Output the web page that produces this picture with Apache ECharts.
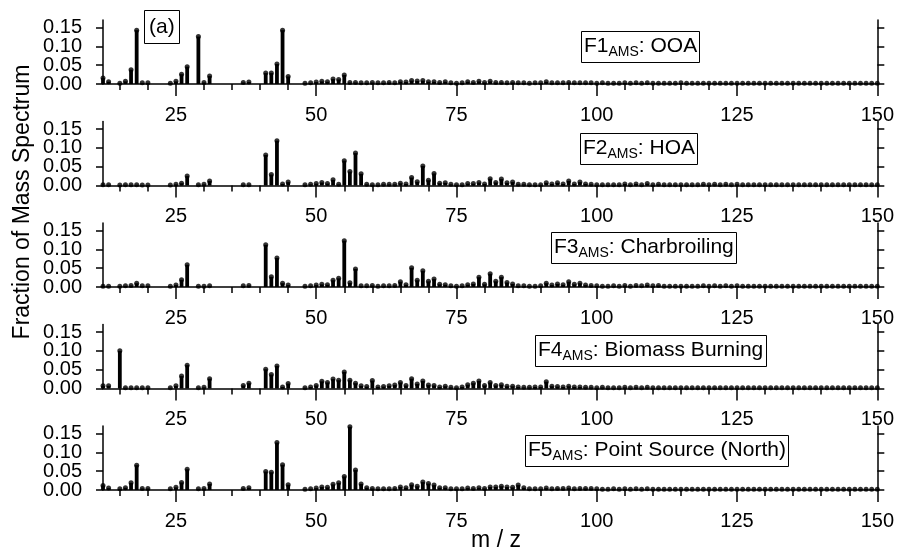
<!DOCTYPE html>
<html lang="en">
<head>
<meta charset="UTF-8">
<title>AMS factor mass spectra</title>
<script src="https://cdn.jsdelivr.net/npm/echarts@6/dist/echarts.min.js"></script>
<style>
    *{
        margin: 0;
        padding: 0;
    }
    html,body{
        width: 100%;
        height: 100%;
        background: #fff;
    }
    .main{
        width: 897px;
        height: 550px;
    }
</style>
</head>
<body>
<div class="main"></div>
<script>
    // m/z channels shown in the figure (gaps = channels not fitted)
    const mz = [12,13,15,16,17,18,19,20,24,25,26,27,29,30,31,37,38,41,42,43,44,45,
        48,49,50,51,52,53,54,55,56,57,58,59,60,61,62,63,64,65,66,67,68,69,70,71,72,73,74,75,76,77,
        78,79,80,81,82,83,84,85,86,87,88,89,90,91,92,93,94,95,96,97,98,99,100,101,102,103,104,105,106,107,
        108,109,110,111,112,113,114,115,116,117,118,119,120,121,122,123,124,125,126,127,
        128,129,130,131,132,133,134,135,136,137,138,139,140,141,142,143,144,145,146,147,148,149,150];

    const ooa = [0.016,0.006,0.002,0.007,0.038,0.143,0.003,0.003,0.002,0.007,0.026,0.046,0.126,0.004,0.021,0.004,0.005,0.029,0.029,0.053,0.143,0.020,
        .002,.003,.005,.007,.006,.013,.012,.024,.004,.004,
        .003,.003,.004,.003,.003,.004,.003,.006,.005,.009,
        .008,.009,.006,.006,.004,.006,.003,.002,.003,.006,
        .004,.007,.004,.007,.004,.004,.003,.004,.003,.003,
        .002,.003,.003,.006,.003,.003,.003,.004,.003,.003,
        .003,.003,.002,.003,.002,.002,.002,.003,.002,.003,
        .002,.003,.002,.002,.002,.002,.002,.003,.002,.002,
        .002,.002,.002,.002,.002,.002,.002,.002,.002,.002,
        .002,.002,.002,.002,.002,.002,.002,.002,.002,.002,
        .002,.002,.002,.002,.002,.002,.002,.002,.002,.002,
        .002,.002,.002];

    const hoa = [0.002,0.002,0.001,0.002,0.002,0.002,0.001,0.001,0.001,0.003,0.006,0.025,0.002,0.003,0.012,0.002,0.002,0.081,0.029,0.119,0.004,0.009,
        .002,.003,.005,.008,.005,.015,.003,.066,.037,.086,
        .031,.003,.002,.002,.003,.003,.003,.006,.004,.021,
        .010,.052,.014,.032,.006,.007,.003,.002,.002,.005,
        .005,.008,.004,.018,.008,.017,.007,.009,.003,.003,
        .002,.002,.002,.007,.004,.007,.004,.012,.004,.009,
        .004,.003,.002,.002,.002,.002,.002,.004,.002,.004,
        .002,.005,.002,.003,.002,.002,.002,.002,.002,.002,
        .002,.003,.002,.003,.002,.003,.002,.003,.002,.002,
        .002,.002,.002,.002,.002,.002,.002,.002,.002,.002,
        .002,.002,.002,.002,.002,.002,.002,.002,.002,.002,
        .002,.002,.002];

    const charbroiling = [0.002,0.002,0.002,0.003,0.004,0.010,0.003,0.003,0.002,0.005,0.019,0.059,0.002,0.002,0.003,0.003,0.004,0.112,0.027,0.077,0.010,0.005,
        .002,.003,.005,.007,.006,.018,.023,.123,.011,.048,
        .003,.003,.004,.002,.003,.003,.004,.014,.006,.051,
        .018,.043,.015,.021,.007,.006,.003,.002,.003,.006,
        .008,.026,.007,.035,.015,.026,.012,.008,.003,.003,
        .002,.002,.003,.010,.005,.008,.006,.014,.007,.010,
        .005,.004,.003,.002,.002,.003,.002,.004,.002,.004,
        .003,.005,.003,.004,.002,.002,.002,.002,.002,.002,
        .002,.003,.002,.003,.002,.003,.002,.003,.002,.002,
        .002,.002,.002,.002,.002,.002,.002,.002,.002,.002,
        .002,.002,.002,.002,.002,.002,.002,.002,.002,.002,
        .002,.002,.002];

    const biomass = [0.007,0.007,0.100,0.002,0.002,0.002,0.002,0.002,0.002,0.007,0.033,0.062,0.002,0.003,0.026,0.008,0.014,0.051,0.037,0.060,0.004,0.013,
        .002,.004,.008,.019,.016,.025,.022,.044,.022,.014,
        .007,.005,.021,.004,.005,.007,.009,.016,.008,.026,
        .012,.020,.009,.008,.004,.006,.003,.002,.004,.010,
        .014,.020,.008,.016,.008,.010,.006,.006,.004,.003,
        .003,.004,.004,.018,.006,.005,.004,.006,.004,.004,
        .003,.003,.002,.003,.002,.002,.002,.003,.002,.003,
        .002,.003,.002,.002,.002,.002,.002,.002,.002,.002,
        .002,.002,.002,.002,.002,.002,.002,.002,.002,.002,
        .002,.002,.002,.002,.002,.002,.002,.002,.002,.002,
        .002,.002,.002,.002,.002,.002,.002,.002,.002,.002,
        .002,.002,.002];

    const pointSource = [0.012,0.005,0.003,0.006,0.019,0.066,0.004,0.004,0.003,0.007,0.020,0.055,0.003,0.004,0.016,0.004,0.006,0.049,0.047,0.126,0.067,0.014,
        .002,.003,.005,.008,.007,.015,.019,.036,.168,.053,
        .016,.006,.004,.003,.003,.003,.004,.008,.006,.014,
        .010,.021,.017,.013,.006,.006,.003,.003,.003,.005,
        .004,.006,.004,.008,.008,.010,.008,.007,.013,.006,
        .003,.003,.003,.005,.003,.004,.004,.005,.003,.004,
        .004,.004,.003,.002,.002,.003,.002,.003,.002,.003,
        .002,.003,.002,.002,.002,.002,.002,.002,.002,.002,
        .002,.002,.002,.002,.002,.002,.002,.002,.002,.002,
        .002,.002,.002,.002,.002,.002,.002,.002,.002,.002,
        .002,.002,.002,.002,.002,.002,.002,.002,.002,.002,
        .002,.002,.002];

    const factorNames = ['F1', 'F2', 'F3', 'F4', 'F5'];
    const factorLabels = ['OOA', 'HOA', 'Charbroiling', 'Biomass Burning', 'Point Source (North)'];
    const majorTicks = [25, 50, 75, 100, 125, 150];
    const minorTicks = [15, 20, 30, 35, 40, 45, 55, 60, 65, 70, 80, 85, 90, 95, 105, 110, 115, 120, 130, 135, 140, 145];
    const yTicks = [0, 0.05, 0.10, 0.15];

    const factors = [ooa, hoa, charbroiling, biomass, pointSource];

    // layout
    const font = 'Liberation Sans, Arial, Helvetica, sans-serif';
    const panelTops = [20, 121.5, 223, 324.5, 426];
    const boxPos = [[581, 29], [580, 131], [551, 230], [535, 333], [525, 433]];
    const black = '#000';

    let main = echarts.init(document.getElementsByClassName('main')[0]);
    let grid = [], xAxis = [], yAxis = [], series = [], title = [];

    title.push({
        text: '(a)',
        left: 144, top: 10,
        borderColor: black, borderWidth: 1,
        padding: [4, 5, 4, 5],
        textStyle: {fontSize: 21, fontWeight: 'normal', color: black, lineHeight: 26, fontFamily: font}
    });

    // y tick labels are split over two overlaid left axes, so that the
    // tightly packed 0.05 steps are not hidden by label-overlap handling
    function leftAxis(i, labels, showLine) {
        return {
            type: 'value', gridIndex: i, min: 0, max: 0.17, position: 'left',
            axisLine: {show: showLine, lineStyle: {color: black, width: 1.5}},
            axisTick: {show: showLine, customValues: yTicks, length: 7, lineStyle: {color: black, width: 1.5}},
            axisLabel: {customValues: labels, margin: 21, color: black, fontSize: 20, fontFamily: font,
                showMinLabel: true, showMaxLabel: true,
                formatter: v => v.toFixed(2)},
            splitLine: {show: false}
        };
    }

    factors.forEach((vals, i) => {
        grid.push({left: 103, right: 19.5, top: panelTops[i], height: 64});

        xAxis.push({
            type: 'value', gridIndex: i, min: 12, max: 150, position: 'bottom',
            axisLine: {onZero: false, lineStyle: {color: black, width: 1.5}},
            axisTick: {customValues: majorTicks, length: 12, lineStyle: {color: black, width: 1.5}},
            axisLabel: {customValues: majorTicks, margin: 21, color: black, fontSize: 20, fontFamily: font,
                showMinLabel: true, showMaxLabel: true},
            splitLine: {show: false}
        });
        xAxis.push({
            type: 'value', gridIndex: i, min: 12, max: 150, position: 'bottom',
            axisLine: {show: false},
            axisTick: {customValues: minorTicks, length: 6, lineStyle: {color: black, width: 1.5}},
            axisLabel: {show: false},
            splitLine: {show: false}
        });

        yAxis.push(leftAxis(i, [0, 0.10], true));
        yAxis.push(leftAxis(i, [0.05, 0.15], false));
        yAxis.push({
            type: 'value', gridIndex: i, min: 0, max: 0.17, position: 'right',
            axisLine: {show: true, lineStyle: {color: black, width: 1.5}},
            axisTick: {show: true, customValues: yTicks, length: 7, lineStyle: {color: black, width: 1.5}},
            axisLabel: {show: false},
            splitLine: {show: false}
        });

        let pts = mz.map((m, k) => [m, vals[k]]);
        series.push({
            type: 'bar', xAxisIndex: 2 * i, yAxisIndex: 3 * i,
            data: pts, barWidth: 3.8, clip: false,
            itemStyle: {color: black}
        });
        series.push({
            type: 'scatter', xAxisIndex: 2 * i, yAxisIndex: 3 * i,
            data: pts, symbol: 'circle', symbolSize: 5, clip: false,
            itemStyle: {color: black}
        });

        title.push({
            text: `{m|${factorNames[i]}}{s|AMS}{m|: ${factorLabels[i]}}`,
            left: boxPos[i][0], top: boxPos[i][1],
            borderColor: black, borderWidth: 1,
            padding: [4, 3, 4, 3],
            textStyle: {
                fontWeight: 'normal', color: black, fontFamily: font,
                rich: {
                    m: {fontSize: 21, lineHeight: 26, color: black, fontFamily: font},
                    s: {fontSize: 14, lineHeight: 10, verticalAlign: 'bottom', color: black, fontFamily: font}
                }
            }
        });
    });

    let option = {
        animation: false,
        backgroundColor: '#fff',
        title,
        grid,
        xAxis,
        yAxis,
        series,
        graphic: [
            {type: 'text', x: 23, y: 202, rotation: Math.PI / 2,
                style: {text: 'Fraction of Mass Spectrum', fontSize: 23, fontFamily: font, fill: black,
                    align: 'center', verticalAlign: 'middle'}},
            {type: 'text', x: 496, y: 541,
                style: {text: 'm / z', fontSize: 23, fontFamily: font, fill: black,
                    align: 'center', verticalAlign: 'middle'}}
        ]
    };
    main.setOption(option);
</script>
</body>
</html>
